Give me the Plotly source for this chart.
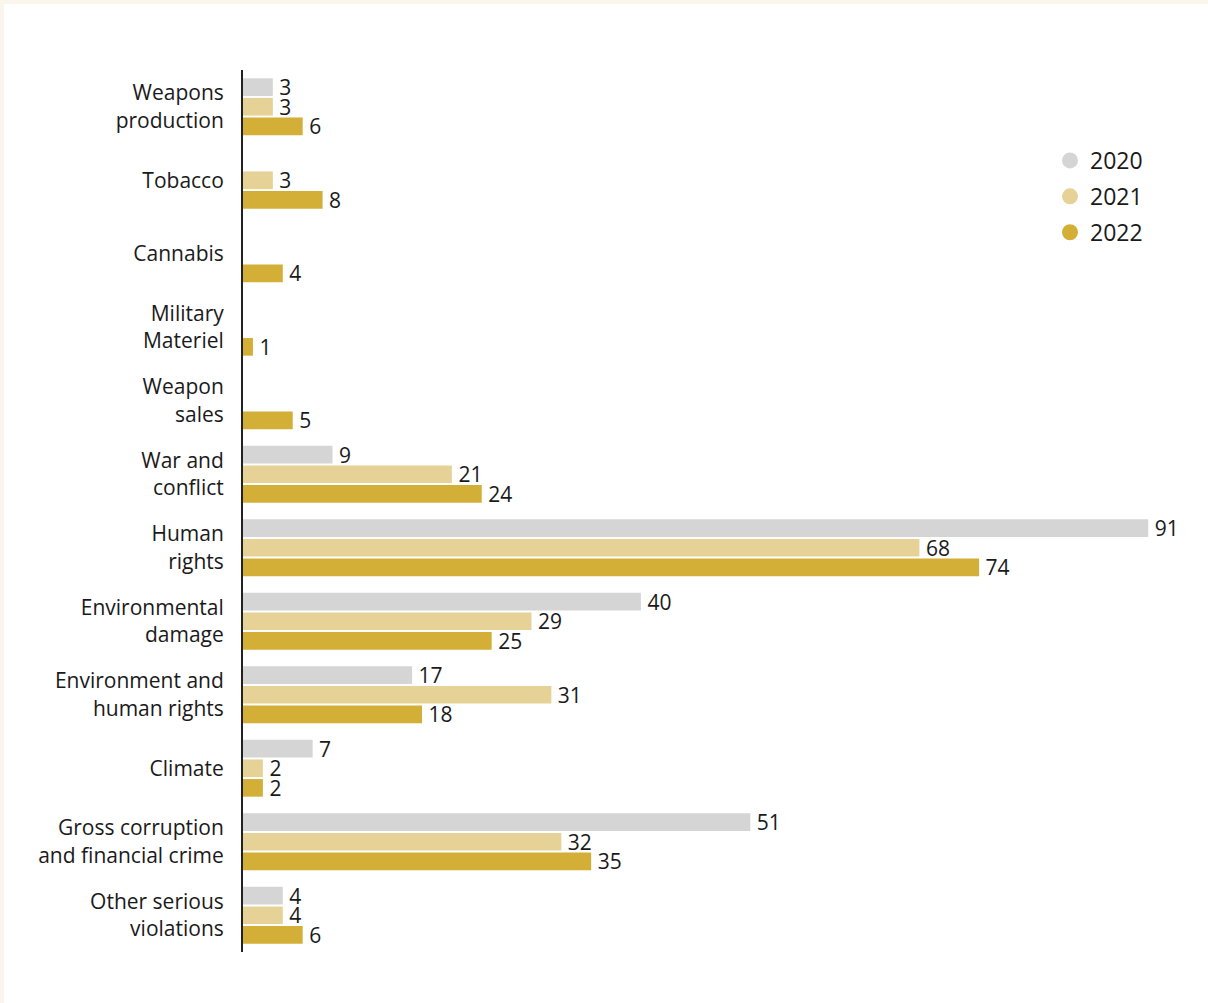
import plotly.graph_objects as go

categories = ["Weapons<br>production", "Tobacco", "Cannabis", "Military<br>Materiel",
              "Weapon<br>sales", "War and<br>conflict", "Human<br>rights",
              "Environmental<br>damage", "Environment and<br>human rights", "Climate",
              "Gross corruption<br>and financial crime", "Other serious<br>violations"]
years = ["2020", "2021", "2022"]
v2020 = [3, None, None, None, None, 9, 91, 40, 17, 7, 51, 4]
v2021 = [3, 3, None, None, None, 21, 68, 29, 31, 2, 32, 4]
v2022 = [6, 8, 4, 1, 5, 24, 74, 25, 18, 2, 35, 6]
colors = ["#d5d5d5", "#e6d296", "#d4af37"]

W, H = 1208, 1003
L, R, T, B = 243, 20, 70, 51
pw, ph = W - L - R, H - T - B

fig = go.Figure()
for name, vals, col in zip(years, [v2020, v2021, v2022], colors):
    fig.add_trace(go.Bar(
        y=categories, x=vals, orientation="h", name=name,
        marker=dict(color=col, line=dict(width=0)),
        text=[("" if v is None else "\u2009" + str(v)) for v in vals],
        textposition="outside", constraintext="none", cliponaxis=False,
        textfont=dict(size=21, color="#1a1a1a", family="Open Sans"),
        showlegend=False, hoverinfo="skip",
    ))
for name, col in zip(years, colors):
    fig.add_trace(go.Scatter(
        x=[None], y=[None], mode="markers", name=name, legendgroup=name,
        marker=dict(color=col, size=20, symbol="circle"), showlegend=True,
    ))

fig.add_shape(type="rect", xref="paper", yref="paper", layer="below",
              x0=(4 - L) / pw, x1=1.2, y0=-0.2, y1=(H - B - 4) / ph,
              fillcolor="white", line=dict(width=0))

fig.update_layout(
    width=W, height=H,
    margin=dict(l=L, r=R, t=T, b=B),
    paper_bgcolor="#faf6ec", plot_bgcolor="white",
    font=dict(family="Open Sans", size=21, color="#1a1a1a"),
    barmode="group", bargap=0.2, bargroupgap=0.1,
    xaxis=dict(visible=False, range=[0, 95]),
    yaxis=dict(autorange="reversed", showline=True, linecolor="#222222", linewidth=2,
               ticks="", showgrid=False, ticklabelstandoff=13,
               tickfont=dict(size=21, color="#1a1a1a", family="Open Sans")),
    legend=dict(x=(1050 - L) / pw, y=(H - B - 139) / ph, xanchor="left", yanchor="top",
                font=dict(size=23, color="#1a1a1a", family="Open Sans"),
                bgcolor="rgba(0,0,0,0)", tracegroupgap=3, itemsizing="trace"),
)
fig.write_html("out.html", config={"displayModeBar": False},
               post_script="document.body.style.margin='0px';")
